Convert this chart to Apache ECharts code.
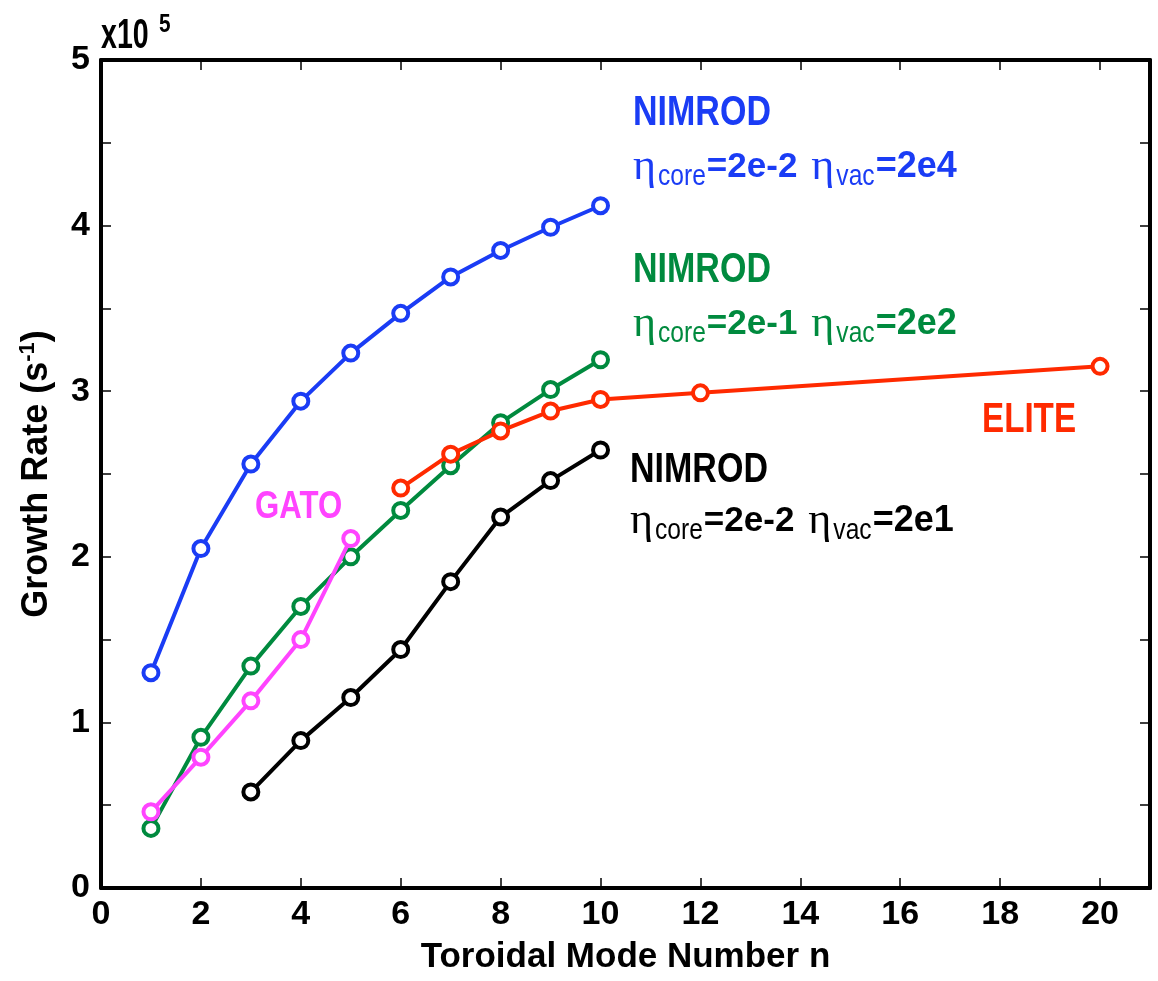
<!DOCTYPE html>
<html>
<head>
<meta charset="utf-8">
<script src="https://cdn.jsdelivr.net/npm/echarts@6/dist/echarts.min.js"></script>
<style>
html,body{margin:0;padding:0;background:#fff;}
#chart{width:1158px;height:981px;}
</style>
</head>
<body>
<div id="chart"></div>
<script>
// ---- data (growth rate in units of 1e5 s^-1) ----
const nBlue = [1, 2, 3, 4, 5, 6, 7, 8, 9, 10];
const gBlue = [1.30, 2.05, 2.56, 2.94, 3.23, 3.47, 3.69, 3.85, 3.99, 4.12];
const nGreen = [1, 2, 3, 4, 5, 6, 7, 8, 9, 10];
const gGreen = [0.36, 0.91, 1.34, 1.70, 2.00, 2.28, 2.55, 2.81, 3.01, 3.19];
const nBlack = [3, 4, 5, 6, 7, 8, 9, 10];
const gBlack = [0.58, 0.89, 1.15, 1.44, 1.85, 2.24, 2.46, 2.645];
const nGato = [1, 2, 3, 4, 5];
const gGato = [0.46, 0.79, 1.13, 1.50, 2.11];
const nElite = [6, 7, 8, 9, 10, 12, 20];
const gElite = [2.415, 2.62, 2.76, 2.88, 2.95, 2.99, 3.15];
const xTicks = [0, 2, 4, 6, 8, 10, 12, 14, 16, 18, 20];
const yTickLabels = [0, 1, 2, 3, 4, 5];
const SCALE = 1e5;

const C_BLUE = '#1a3cf5', C_GREEN = '#008a3e', C_BLACK = '#000000', C_MAG = '#ff44ff', C_RED = '#ff2a00';

function pairs(xs, ys) { return xs.map((x, i) => [x, ys[i] * SCALE]); }

const SANS = '"Liberation Sans", Arial, Helvetica, sans-serif';
const SERIF = '"Liberation Serif", "Times New Roman", serif';

const mctx = document.createElement('canvas').getContext('2d');
function measure(t, size, family, weight) {
  mctx.font = (weight || 'normal') + ' ' + size + 'px ' + family;
  return mctx.measureText(t).width;
}
function txt(x, y, t, size, family, weight, color, sx) {
  return {
    type: 'text', x: x, y: y, scaleX: sx || 1, z: 100,
    style: {
      text: t, fill: color, fontSize: size, fontFamily: family, fontWeight: weight || 'normal',
      textAlign: 'left', textVerticalAlign: 'middle', align: 'left', verticalAlign: 'middle'
    }
  };
}
// "eta_core=... eta_vac=..." line
function etaLine(x0, yc, color, coreVal, vacVal) {
  const out = [];
  let x = x0;
  const pieces = [
    { t: 'η', s: 44, f: SERIF, w: 'normal', dy: 0, sx: 1, gap: 2 },
    { t: 'core', s: 30, f: SANS, w: 'normal', dy: 10, sx: 0.82, gap: 1 },
    { t: '=' + coreVal, s: 35, f: SANS, w: 'bold', dy: 0, sx: 1, gap: 14 },
    { t: 'η', s: 44, f: SERIF, w: 'normal', dy: 0, sx: 1, gap: 2 },
    { t: 'vac', s: 30, f: SANS, w: 'normal', dy: 10, sx: 0.82, gap: 1 },
    { t: '=' + vacVal, s: 36, f: SANS, w: 'bold', dy: 0, sx: 1, gap: 0 }
  ];
  pieces.forEach(p => {
    out.push(txt(x, yc + p.dy, p.t, p.s, p.f, p.w, color, p.sx));
    x += measure(p.t, p.s, p.f, p.w) * p.sx + p.gap;
  });
  return out;
}

const graphics = [].concat(
  [txt(633, 113, 'NIMROD', 42, SANS, 'bold', C_BLUE, 0.81)],
  etaLine(633, 167, C_BLUE, '2e-2', '2e4'),
  [txt(633, 270, 'NIMROD', 42, SANS, 'bold', C_GREEN, 0.81)],
  etaLine(633, 324, C_GREEN, '2e-1', '2e2'),
  [txt(630, 470, 'NIMROD', 42, SANS, 'bold', C_BLACK, 0.81)],
  etaLine(630, 521, C_BLACK, '2e-2', '2e1'),
  [txt(982, 420, 'ELITE', 42, SANS, 'bold', C_RED, 0.79)],
  [txt(255, 508, 'GATO', 38, SANS, 'bold', C_MAG, 0.82)],
  [txt(101, 36, 'x10', 42, SANS, 'bold', '#000', 0.68)],
  [txt(159, 25, '5', 26, SANS, 'bold', '#000', 0.8)]
);

const chart = echarts.init(document.getElementById('chart'), null, { renderer: 'canvas' });

const tickStyle = { show: true, inside: true, length: 10, lineStyle: { color: '#000', width: 1.5 } };
const lineAx = { show: true, onZero: false, lineStyle: { color: '#000', width: 4 } };

function mkSeries(name, xs, ys, color, z) {
  return {
    name: name, type: 'line', data: pairs(xs, ys), xAxisIndex: 0, yAxisIndex: 0,
    symbol: 'circle', symbolSize: 15, showSymbol: true, z: z,
    lineStyle: { color: color, width: 4 },
    itemStyle: { color: '#ffffff', borderColor: color, borderWidth: 4 },
    emphasis: { disabled: true }, animation: false
  };
}

chart.setOption({
  animation: false,
  backgroundColor: '#ffffff',
  grid: { left: 101, top: 60, right: 8, bottom: 93, containLabel: false, show: false },
  xAxis: [
    {
      type: 'value', position: 'bottom', min: 0, max: 21, interval: 2,
      axisLine: lineAx, axisTick: tickStyle, splitLine: { show: false },
      axisLabel: {
        show: true, margin: 10, color: '#000', fontSize: 34, fontWeight: 'bold', fontFamily: SANS,
        showMaxLabel: false,
        formatter: v => (xTicks.indexOf(v) >= 0 ? String(v) : '')
      },
      name: 'Toroidal Mode Number n', nameLocation: 'middle', nameGap: 52,
      nameTextStyle: { color: '#000', fontSize: 35, fontWeight: 'bold', fontFamily: SANS }
    },
    {
      type: 'value', position: 'top', min: 0, max: 21, interval: 2,
      axisLine: lineAx, axisTick: tickStyle, axisLabel: { show: false }, splitLine: { show: false }
    }
  ],
  yAxis: [
    {
      type: 'value', position: 'left', min: 0, max: 5 * SCALE, interval: 0.5 * SCALE,
      axisLine: lineAx, axisTick: tickStyle, splitLine: { show: false },
      axisLabel: {
        show: true, margin: 11, color: '#000', fontSize: 34, fontWeight: 'bold', fontFamily: SANS,
        formatter: v => { const k = Math.round(v / SCALE * 10) / 10; return yTickLabels.indexOf(k) >= 0 ? String(k) : ''; }
      },
      name: 'Growth Rate (s{sup|-1})', nameLocation: 'middle', nameGap: 44, nameRotate: 90,
      nameTextStyle: {
        color: '#000', fontSize: 36, fontWeight: 'bold', fontFamily: SANS,
        rich: { sup: { fontSize: 22, fontWeight: 'bold', fontFamily: SANS, color: '#000', verticalAlign: 'top', lineHeight: 40 } }
      }
    },
    {
      type: 'value', position: 'right', min: 0, max: 5 * SCALE, interval: 0.5 * SCALE,
      axisLine: lineAx, axisTick: tickStyle, axisLabel: { show: false }, splitLine: { show: false }
    }
  ],
  series: [
    mkSeries('NIMROD 2e-2/2e4', nBlue, gBlue, C_BLUE, 2),
    mkSeries('NIMROD 2e-1/2e2', nGreen, gGreen, C_GREEN, 3),
    mkSeries('NIMROD 2e-2/2e1', nBlack, gBlack, C_BLACK, 4),
    mkSeries('GATO', nGato, gGato, C_MAG, 5),
    mkSeries('ELITE', nElite, gElite, C_RED, 6)
  ],
  graphic: graphics
});
</script>
</body>
</html>
